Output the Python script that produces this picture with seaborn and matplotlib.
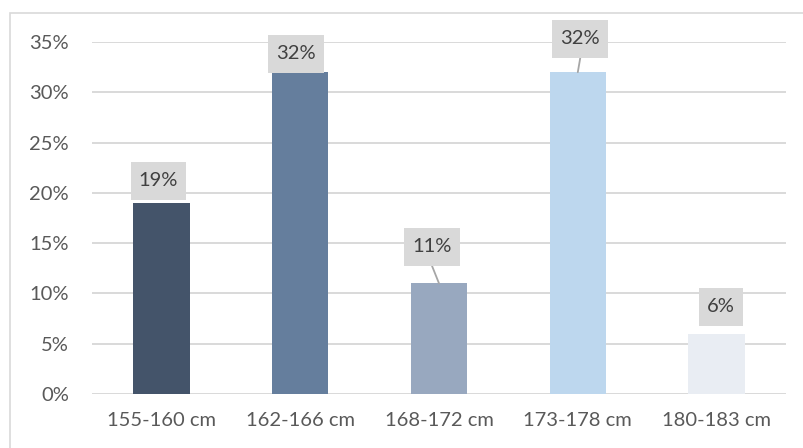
import matplotlib
matplotlib.use("Agg")
import matplotlib.pyplot as plt
import seaborn as sns
import pandas as pd
from matplotlib.patches import Rectangle
from matplotlib.lines import Line2D
from matplotlib.transforms import IdentityTransform

categories = ["155-160 cm", "162-166 cm", "168-172 cm", "173-178 cm", "180-183 cm"]
values = [19, 32, 11, 32, 6]
value_labels = ["19%", "32%", "11%", "32%", "6%"]
yticks = [0, 5, 10, 15, 20, 25, 30, 35]
ytick_labels = ["0%", "5%", "10%", "15%", "20%", "25%", "30%", "35%"]
colors = ["#44546A", "#657E9D", "#98A8BF", "#BDD7EE", "#E9EDF3"]

# label box offsets (pixels) relative to bar top center
label_dx = [-3, -4.5, -7, 2.5, 4.5]
label_dy = [22, 18.5, 36.5, 33.5, 27]
leader = [False, False, True, True, False]

sns.set_theme(style="white")
plt.rcParams['font.family'] = ['Lato', 'DejaVu Sans']

fig = plt.figure(figsize=(8.04, 4.48), dpi=100)
ax = fig.add_axes([92/804, 1-394/448, (786-92)/804, (394-42)/448])

df = pd.DataFrame({"cat": categories, "val": values})
sns.barplot(data=df, x="cat", y="val", hue="cat", palette=colors, legend=False,
            width=0.405, ax=ax, saturation=1, edgecolor="none", zorder=3)

ax.set_ylim(0, 35)
ax.set_xlim(-0.5, 4.5)
ax.set_yticks(yticks)
ax.set_yticklabels(ytick_labels)
ax.set_xlabel("")
ax.set_ylabel("")
ax.yaxis.grid(True, color="#D9D9D9", linewidth=1.4, zorder=0)
ax.set_axisbelow(True)
for s in ax.spines.values():
    s.set_visible(False)
ax.tick_params(axis="both", length=0, labelsize=14.5, colors="#595959")
ax.tick_params(axis="y", pad=16.5)
ax.tick_params(axis="x", pad=13)

fig.canvas.draw()
renderer = fig.canvas.get_renderer()
box_h = 38
for i, (v, lab) in enumerate(zip(values, value_labels)):
    bx, by = ax.transData.transform((i, v))
    cx, cy = bx + label_dx[i], by + label_dy[i]
    t = fig.text(cx, cy, lab, transform=IdentityTransform(), ha="center", va="center",
                 fontsize=14.5, color="#404040", zorder=6)
    ext = t.get_window_extent(renderer)
    w = ext.width + 16
    rect = Rectangle((cx - w / 2, cy - box_h / 2), w, box_h, transform=IdentityTransform(),
                     fc="#D9D9D9", ec="none", zorder=5)
    fig.patches.append(rect)
    if leader[i]:
        fig.lines.append(Line2D([cx, bx], [cy - box_h / 2, by], transform=IdentityTransform(),
                                color="#A6A6A6", lw=1.3, zorder=5))

# outer chart border
fig.patches.append(Rectangle((10/804, -0.01), 1.0, 1 - 13/448 + 0.01, transform=fig.transFigure,
                             fill=False, ec="#D9D9D9", lw=1.2))

fig.savefig("out.png", dpi=100)
